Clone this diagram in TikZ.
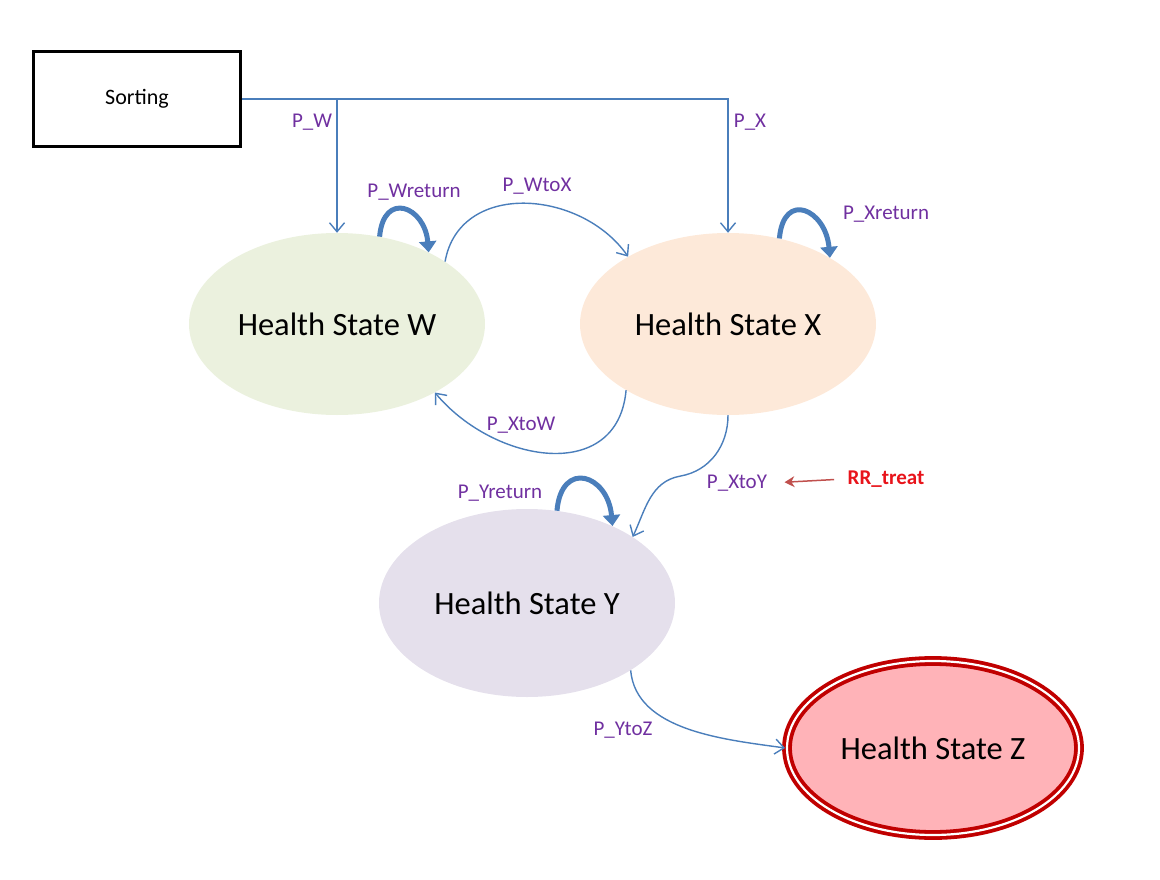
\documentclass[tikz,border=0pt]{standalone}
\usepackage{fontspec}
\setmainfont{Carlito}
\usetikzlibrary{shapes.geometric,arrows.meta,calc}
\definecolor{lineblue}{HTML}{4A7EBB}
\definecolor{labelpurple}{HTML}{7030A0}
\definecolor{fillW}{HTML}{EBF1DE}
\definecolor{fillX}{HTML}{FDE9D9}
\definecolor{fillY}{HTML}{E5E0EC}
\definecolor{fillZ}{HTML}{FFB3B8}
\definecolor{borderZ}{HTML}{C00000}
\definecolor{treatred}{HTML}{E8141B}
\definecolor{treatarrow}{HTML}{C0504D}
\begin{document}
\begin{tikzpicture}[
  x=1pt, y=1pt,
  state/.style={ellipse, minimum width=296pt, minimum height=182pt, inner sep=0pt,
    font=\fontsize{32.5}{38}\selectfont},
  flow/.style={lineblue, line width=1.4pt, -{Straight Barb[length=9pt,width=15pt]}},
  selfloop/.style={lineblue, line width=5pt, -{Triangle[length=11pt,width=17pt]}, looseness=2.3},
  plabel/.style={labelpurple, font=\fontsize{21}{25}\selectfont}
]
\useasboundingbox (0,0) rectangle (1160,-880);

\node [draw, line width=3.5pt, minimum width=207pt, minimum height=95pt,
  font=\fontsize{22}{26}\selectfont] (sort) at (137,-99) {Sorting};

\node [state, fill=fillW] (W) at (337,-324) {Health State W};
\node [state, fill=fillX] (X) at (728,-324) {Health State X};
\node [state, fill=fillY, minimum height=188pt] (Y) at (527,-603) {Health State Y};
\node [state, fill=fillZ, draw=borderZ, line width=3.8pt, double=white, double distance=2.2pt,
  minimum width=292pt, minimum height=174pt] (Z) at (933,-748) {Health State Z};

% from sorting
\draw [flow] (sort.east) -| (X.north);
\draw [flow] (sort.east -| W.north) -- (W.north);

% between states
\draw [flow] (W.30) to [out=80, in=125, looseness=1.15] (X.146);
\draw [flow] (X.213) to [out=-95, in=-50, looseness=1.25] (W.-35);
\draw [flow] (X.south) to [out=-90, in=10] ($(X.south)!0.5!(Y.32)$) to [out=190, in=65] (Y.32);
\draw [flow] (Y.-33) to [out=-85, in=172, looseness=0.9] (Z.west);

% staying
\draw [selfloop] (W.64) to [out=85, in=95] (W.38);
\draw [selfloop] (X.59) to [out=85, in=95] (X.33);
\draw [selfloop] (Y.72) to [out=85, in=95] (Y.42);

\node [plabel] (pW) at (312,-122) {P\_W};
\node [plabel] (pX) at (750,-122) {P\_X};
\node [plabel] (pWr) at (414,-192) {P\_Wreturn};
\node [plabel] (pWX) at (537,-186) {P\_WtoX};
\node [plabel] (pXr) at (886,-214) {P\_Xreturn};
\node [plabel] (pXW) at (521,-425) {P\_XtoW};
\node [plabel] (pXY) at (737,-483) {P\_XtoY};
\node [plabel] (pYr) at (500,-493) {P\_Yreturn};
\node [plabel] (pYZ) at (623,-730) {P\_YtoZ};

\node [treatred, font=\fontsize{21}{25}\selectfont\bfseries] (rr) at (886,-479) {RR\_treat};
\draw [treatarrow, line width=1.5pt, -{Stealth[length=10pt,width=11pt]},
  shorten <=10pt, shorten >=14pt] (rr.west) -- (pXY.east);
\end{tikzpicture}
\end{document}
